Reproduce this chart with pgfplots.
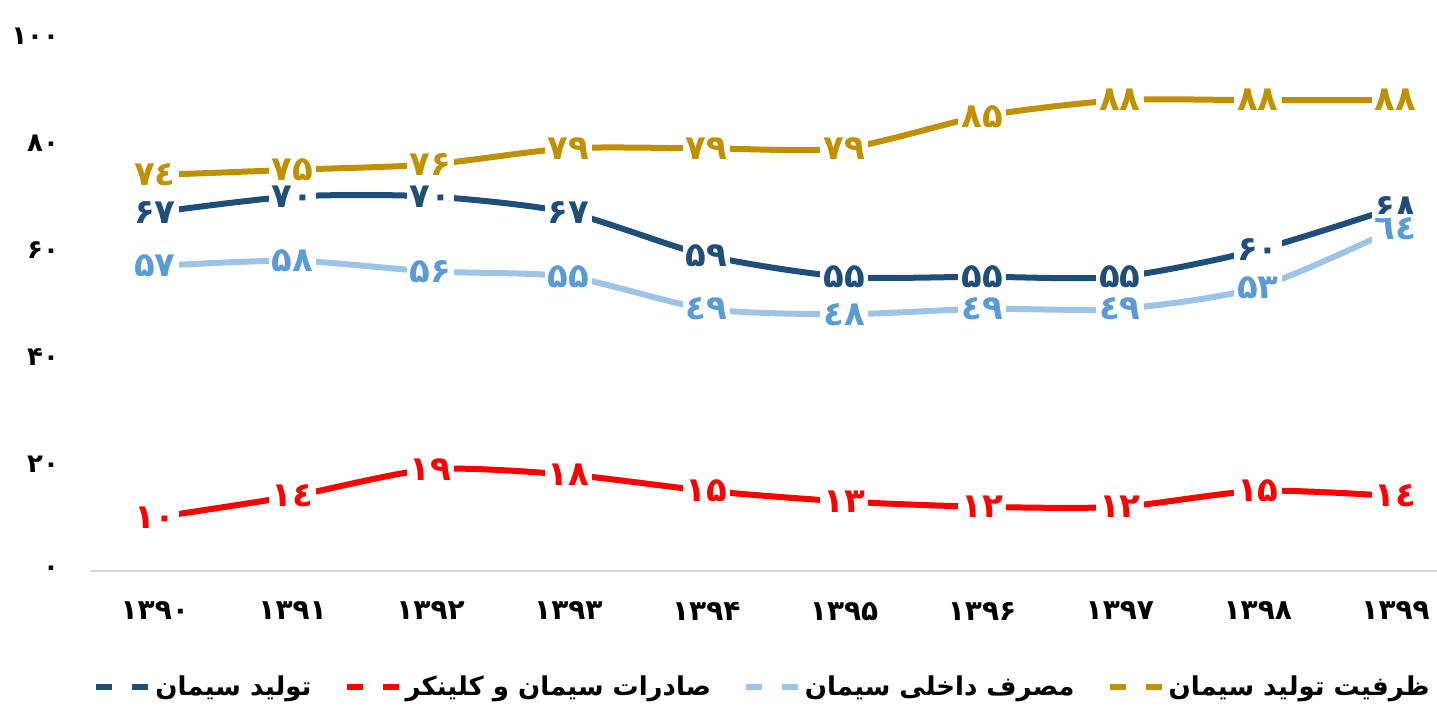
\documentclass[border=0pt]{standalone}
\usepackage{fontspec}
\usepackage{pgfplots}
\pgfplotsset{compat=1.18}
\TeXXeTstate=1
\newfontfamily\arabicfont[Script=Arabic]{DejaVu Sans}
\newfontfamily\digitfont{DejaVu Sans}

\definecolor{capgold}{RGB}{191,144,0}
\definecolor{proddark}{RGB}{31,78,121}
\definecolor{conslight}{RGB}{157,195,230}
\definecolor{conslabel}{RGB}{91,155,213}
\definecolor{expred}{RGB}{255,0,0}
\definecolor{gridgray}{RGB}{217,217,217}

\begin{document}
\begin{tikzpicture}
\begin{axis}[
  scale only axis,
  width=673.5pt, height=267.5pt,
  xmin=-0.47, xmax=9.3,
  ymin=0, ymax=100,
  xtick={0,...,9},
  xticklabels={۱۳۹۰,۱۳۹۱,۱۳۹۲,۱۳۹۳,۱۳۹۴,۱۳۹۵,۱۳۹۶,۱۳۹۷,۱۳۹۸,۱۳۹۹},
  ytick={0,20,40,60,80,100},
  yticklabels={۰,۲۰,۴۰,۶۰,۸۰,۱۰۰},
  xticklabel style={font=\digitfont\bfseries\fontsize{14}{14}\selectfont, yshift=-12pt},
  yticklabel style={font=\digitfont\bfseries\fontsize{13}{13}\selectfont, xshift=-12pt},
  major tick length=0pt,
  axis x line*=bottom,
  axis y line*=left,
  x axis line style={draw=gridgray, line width=1.2pt, -},
  y axis line style={draw=none},
  clip=false,
  point meta=explicit symbolic,
  nodes near coords,
  nodes near coords style={anchor=center, fill=white, inner sep=1.5pt,
    font=\digitfont\bfseries\fontsize{17}{17}\selectfont},
  every axis plot/.append style={line width=3pt, smooth, tension=0.45},
  legend columns=4,
  legend style={at={(0.5,-0.18)}, anchor=north, draw=none,
    font=\arabicfont\bfseries\fontsize{13}{13}\selectfont,
    /tikz/every even column/.append style={column sep=14pt}},
  legend cell align=left,
  legend image code/.code={
    \draw[#1, line width=3pt, dash pattern=on 8pt off 10pt] (0pt,0pt) -- (26pt,0pt);
  },
]
% production
\addplot[proddark, nodes near coords style={text=proddark}] coordinates {
  (0,67) [۶۷] (1,70) [۷۰] (2,70) [۷۰] (3,67) [۶۷] (4,59) [۵۹]
  (5,55) [۵۵] (6,55) [۵۵] (7,55) [۵۵] (8,60) [۶۰] (9,68) [۶۸]
};
\addlegendentry{\beginR تولید سیمان\endR}
% export
\addplot[expred, nodes near coords style={text=expred}] coordinates {
  (0,10) [۱۰] (1,14) [۱٤] (2,19) [۱۹] (3,18) [۱۸] (4,15) [۱۵]
  (5,13) [۱۳] (6,12) [۱۲] (7,12) [۱۲] (8,15) [۱۵] (9,14) [۱٤]
};
\addlegendentry{\beginR صادرات سیمان و کلینکر\endR}
% domestic consumption
\addplot[conslight, nodes near coords style={text=conslabel}] coordinates {
  (0,57) [۵۷] (1,58) [۵۸] (2,56) [۵۶] (3,55) [۵۵] (4,49) [٤۹]
  (5,48) [٤۸] (6,49) [٤۹] (7,49) [٤۹] (8,53) [۵۳] (9,64) [٦٤]
};
\addlegendentry{\beginR مصرف داخلی سیمان\endR}
% capacity
\addplot[capgold, nodes near coords style={text=capgold}] coordinates {
  (0,74) [۷٤] (1,75) [۷۵] (2,76) [۷۶] (3,79) [۷۹] (4,79) [۷۹]
  (5,79) [۷۹] (6,85) [۸۵] (7,88) [۸۸] (8,88) [۸۸] (9,88) [۸۸]
};
\addlegendentry{\beginR ظرفیت تولید سیمان\endR}
\end{axis}
\pgfresetboundingbox
\path (current axis.south west) ++(-45pt,-71.5pt) rectangle (current axis.north east) ++(0pt,18pt);
\end{tikzpicture}
\end{document}
